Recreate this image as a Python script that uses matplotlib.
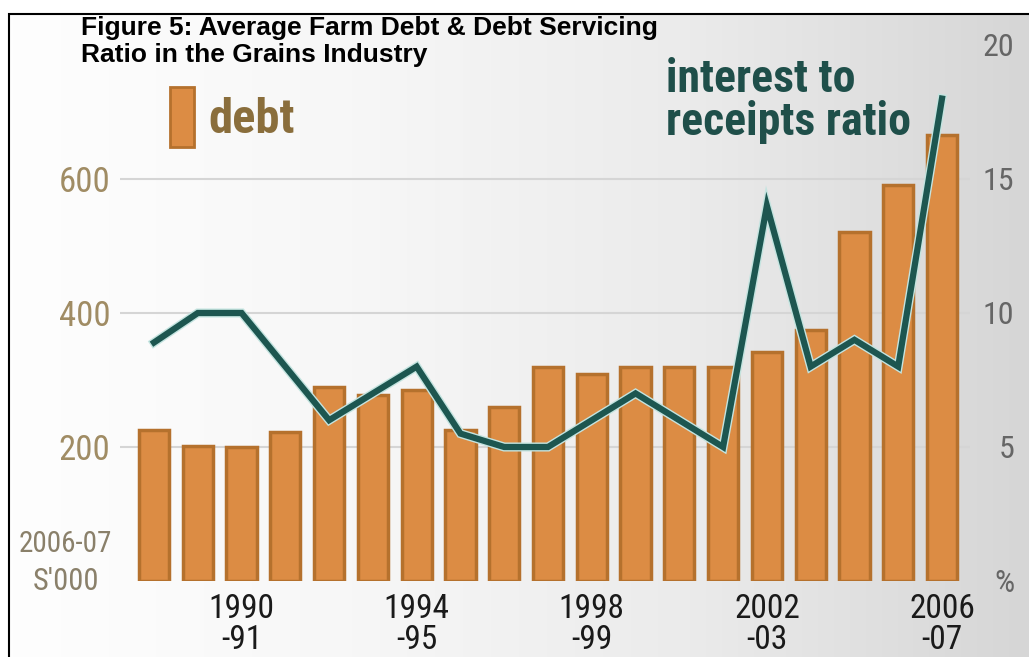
import numpy as np
import matplotlib
matplotlib.use("Agg")
import matplotlib.pyplot as plt
import matplotlib.patheffects as pe
from matplotlib.colors import LinearSegmentedColormap
from matplotlib.patches import Rectangle

years = ["1988-89", "1989-90", "1990-91", "1991-92", "1992-93", "1993-94", "1994-95",
         "1995-96", "1996-97", "1997-98", "1998-99", "1999-00", "2000-01", "2001-02",
         "2002-03", "2003-04", "2004-05", "2005-06", "2006-07"]
debt = [225, 201, 200, 222, 290, 278, 285, 225, 260, 319, 309, 319, 319, 319, 342, 375, 521, 591, 666]
ratio = [8.9, 10, 10, 8, 6, 7, 8, 5.5, 5, 5, 6, 7, 6, 5, 14, 8, 9, 8, 18]
tick_idx = [2, 6, 10, 14, 18]
tick_labels = ["1990\n-91", "1994\n-95", "1998\n-99", "2002\n-03", "2006\n-07"]

COND = ["Roboto Condensed", "DejaVu Sans"]
ORANGE, ORANGE_EDGE, TEAL = "#dc8c44", "#b5712d", "#1d5650"
W, H = 1029, 657

def fx(px):
    return px / W

def fy(py):
    return 1 - py / H

fig = plt.figure(figsize=(10.29, 6.57), dpi=100)
fig.patch.set_facecolor("white")

# background gradient + frame
bg = fig.add_axes([fx(9), 0, 1 - fx(9), 1 - 14 / H], zorder=-10)
bg.imshow(np.linspace(0, 1, 256)[None, :], aspect="auto", extent=[0, 1, 0, 1],
          cmap=LinearSegmentedColormap.from_list("g", ["#fefefe", "#f7f7f7", "#ebebeb", "#d6d6d6"]))
bg.set_axis_off()
fig.patches.append(Rectangle((fx(9), -0.05), 1.1, 1.05 - 14 / H, transform=fig.transFigure,
                             fill=False, edgecolor="black", lw=1.5, zorder=5))

ax = fig.add_axes([fx(120), 76 / H, 850 / W, 536 / H])
ax.patch.set_alpha(0)
x = np.arange(len(years))
ax.bar(x, debt, width=0.69, color=ORANGE, edgecolor=ORANGE_EDGE, linewidth=2.5, zorder=2)
ax.set_xlim(-0.777, 18.64)
ax.set_ylim(0, 800)
for v in [200, 400, 600]:
    ax.axhline(v, color="#d5d5d5", lw=1.5, zorder=1)
ax.set_yticks([200, 400, 600])
ax.set_yticklabels(["200", "400", "600"], family=COND, fontsize=25, color="#a08c64")
ax.set_xticks(tick_idx)
ax.set_xticklabels(tick_labels, family=COND, fontsize=24, color="#1a1a1a", linespacing=0.95)
ax.tick_params(length=0, axis="y", pad=7)
ax.tick_params(length=0, axis="x", pad=9)
for s in ax.spines.values():
    s.set_visible(False)
fig.text(fx(65), fy(552), "2006-07", ha="center", va="baseline", family=COND, fontsize=21, color="#8a806a")
fig.text(fx(66), fy(590), "S'000", ha="center", va="baseline", family=COND, fontsize=22, color="#8a806a")

ax2 = ax.twinx()
ax2.plot(x, ratio, color=TEAL, lw=4.5, solid_joinstyle="miter", zorder=3,
         path_effects=[pe.Stroke(linewidth=6.5, foreground="#c4e4e0"), pe.Normal()])
ax2.set_ylim(0, 20)
ax2.set_yticks([0, 5, 10, 15, 20])
ax2.set_yticklabels(["%", "5", "10", "15", "20"], family=COND, fontsize=23, color="#666666", ha="right")
ax2.tick_params(length=0, pad=32)
for s in ax2.spines.values():
    s.set_visible(False)

fig.text(fx(81), fy(16), "Figure 5: Average Farm Debt & Debt Servicing\nRatio in the Grains Industry",
         ha="left", va="top", family=["Liberation Sans", "DejaVu Sans"], fontsize=19,
         fontweight="bold", linespacing=1.15)

fig.patches.append(Rectangle((fx(170), fy(147)), 24 / W, 60 / H, transform=fig.transFigure,
                             facecolor=ORANGE, edgecolor=ORANGE_EDGE, lw=2))
fig.text(fx(208), fy(133), "debt", ha="left", va="baseline", family=COND,
         fontsize=35, fontweight="bold", color="#8a6e3c")
fig.text(fx(666), fy(92), "interest to", ha="left", va="baseline", family=COND,
         fontsize=33, fontweight="bold", color="#1f4f4a")
fig.text(fx(666), fy(135), "receipts ratio", ha="left", va="baseline", family=COND,
         fontsize=33, fontweight="bold", color="#1f4f4a")

fig.savefig("out.png", dpi=100)
